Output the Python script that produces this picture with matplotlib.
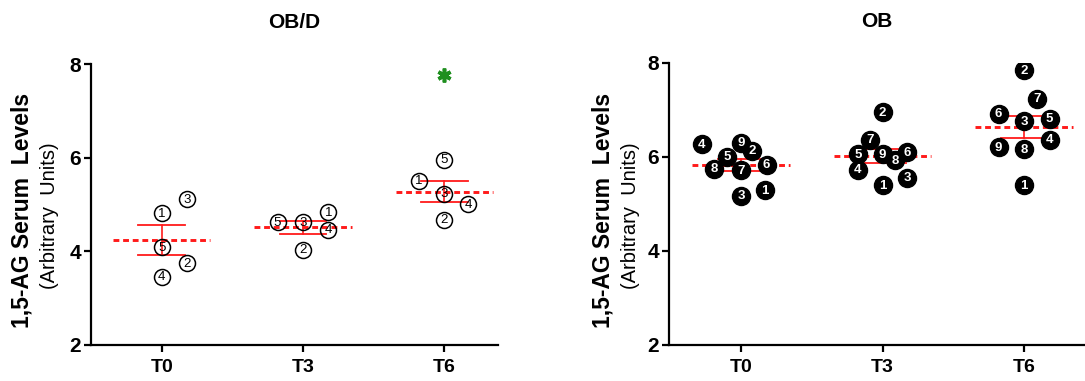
import numpy as np
import matplotlib
matplotlib.use('Agg')
import matplotlib.pyplot as plt

plt.rcParams['font.family'] = ['Liberation Sans', 'DejaVu Sans']

# ---------------- data ----------------
categories = ['T0', 'T3', 'T6']
titles = ['OB/D', 'OB']

obd_labels = ['1', '2', '3', '4', '5']
obd_T0 = [4.81, 3.75, 5.11, 3.46, 4.09]
obd_T3 = [4.83, 4.03, 4.62, 4.46, 4.62]
obd_T6 = [5.51, 4.67, 5.23, 5.01, 5.95]

ob_labels = ['1', '2', '3', '4', '5', '6', '7', '8', '9']
ob_T0 = [5.29, 6.13, 5.18, 6.27, 6.01, 5.84, 5.72, 5.75, 6.30]
ob_T3 = [5.40, 6.95, 5.56, 5.73, 6.06, 6.10, 6.37, 5.93, 6.06]
ob_T6 = [5.40, 7.85, 6.76, 6.37, 6.81, 6.92, 7.24, 6.16, 6.21]

# significance marker (OB/D, T6)
sig_category = 2
sig_value = 7.77

# horizontal jitter (category units) for each subject
obd_off = [[0, .18, .18, 0, 0],
           [.18, 0, 0, .18, -.18],
           [-.18, 0, 0, .17, 0]]
ob_off = [[.165, .08, 0, -.28, -.10, .18, 0, -.19, 0],
          [0, 0, .175, -.175, -.175, .175, -.09, .09, 0],
          [0, 0, 0, .18, .18, -.18, .09, 0, -.18]]

# ---------------- figure ----------------
W, H = 1085, 381
fig = plt.figure(figsize=(W / 100, H / 100), dpi=100)

def px_axes(x0, y_top, x1, y_bot):
    return fig.add_axes([x0 / W, 1 - y_bot / H, (x1 - x0) / W, (y_bot - y_top) / H])

ax1 = px_axes(91, 64, 498, 345)
ax2 = px_axes(669, 63, 1085, 345)

RED = '#ff1a1a'

def draw_panel(ax, groups, offsets, labels, filled, xlim, title):
    for i, vals in enumerate(groups):
        vals = np.asarray(vals)
        m = vals.mean()
        sem = vals.std(ddof=1) / np.sqrt(len(vals))
        # SEM bars
        ax.plot([i, i], [m - sem, m + sem], color=RED, lw=1.2, zorder=2)
        ax.plot([i - .165, i + .165], [m + sem, m + sem], color=RED, lw=1.3, zorder=2)
        ax.plot([i - .165, i + .165], [m - sem, m - sem], color=RED, lw=1.3, zorder=2)
        # mean
        ax.plot([i - .345, i + .345], [m, m], color=RED, lw=2.1,
                dashes=(2.0, 1.3), zorder=2)
        xs = i + np.asarray(offsets[i])
        for x, y, lab in zip(xs, vals, labels):
            if filled:
                ax.plot(x, y, 'o', ms=13, mfc='black', mec='black', zorder=3)
                ax.text(x, y - 0.01, lab, ha='center', va='center', color='white',
                        fontsize=9.5, fontweight='bold', zorder=4)
            else:
                ax.plot(x, y, 'o', ms=11.5, mfc='none', mec='black', mew=1.1, zorder=3)
                ax.text(x, y - 0.01, lab, ha='center', va='center', color='black',
                        fontsize=9.5, zorder=4)
    ax.set_xlim(*xlim)
    ax.set_ylim(2, 8)
    ax.set_xticks(range(len(categories)))
    ax.set_xticklabels(categories)
    ax.set_yticks([2, 4, 6, 8])
    for s in ['top', 'right']:
        ax.spines[s].set_visible(False)
    for s in ['left', 'bottom']:
        ax.spines[s].set_linewidth(1.6)
        ax.spines[s].set_color('black')
    ax.tick_params(axis='both', direction='out', length=5, width=1.6, labelsize=14)
    ax.tick_params(axis='y', labelsize=15)
    ax.tick_params(axis='x', pad=5)
    ax.tick_params(axis='y', pad=2)
    for t in ax.get_xticklabels() + ax.get_yticklabels():
        t.set_fontweight('bold')
    ax.set_title(title, fontsize=15, fontweight='bold', pad=26)
    ax.patch.set_alpha(0)

draw_panel(ax1, [obd_T0, obd_T3, obd_T6], obd_off, obd_labels, False, (-0.5, 2.38), titles[0])
draw_panel(ax2, [ob_T0, ob_T3, ob_T6], ob_off, ob_labels, True, (-0.51, 2.43), titles[1])

ax1.plot(sig_category, sig_value, marker=(6, 2, 0), ms=10, mew=2.6,
         color='#1f8f1f', zorder=5)

# y labels
for xa, xb in [(22, 50), (603, 630)]:
    fig.text(xa / W, 1 - 210 / H, '1,5-AG Serum  Levels', rotation=90,
             ha='center', va='center', fontsize=16.5, fontweight='bold')
    fig.text(xb / W, 1 - 216 / H, '(Arbitrary  Units)', rotation=90,
             ha='center', va='center', fontsize=14.5)

fig.savefig('out.png', dpi=100)
